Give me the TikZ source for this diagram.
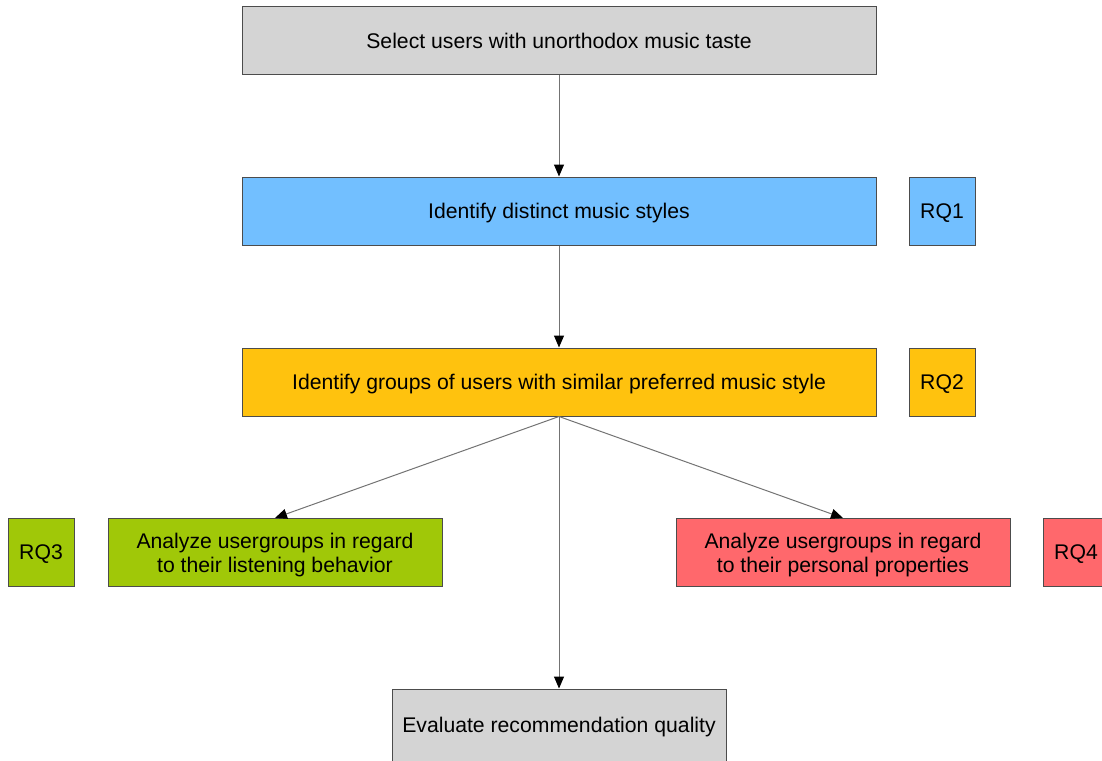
\documentclass[tikz,border=0pt]{standalone}
\usepackage{fontspec}
\setmainfont{Liberation Sans}
\usetikzlibrary{arrows.meta}
\definecolor{selgray}{HTML}{D4D4D4}
\definecolor{rqblue}{HTML}{72BFFF}
\definecolor{rqorange}{HTML}{FFC20E}
\definecolor{rqgreen}{HTML}{A0C808}
\definecolor{rqred}{HTML}{FF686C}
\begin{document}
\begin{tikzpicture}[x=1pt,y=-1pt,
  box/.style={draw=black!70,line width=1pt,minimum height=68pt,inner sep=0pt,align=center,text depth=0pt,font=\fontsize{21.2}{24}\selectfont},
  wide/.style={box,minimum width=634pt},
  half/.style={box,minimum width=334pt},
  twoline/.style={half,text depth=-2pt},
  rq/.style={box,minimum width=66pt},
  flow/.style={draw=black!55,line width=1pt,-{Triangle[length=12pt,width=10pt,color=black]}}]
\clip (0,0) rectangle (1102,760);
\useasboundingbox (0,0) rectangle (1102,760);
\node[wide,fill=selgray] (select) at (559,40.5) {Select users with unorthodox music taste};
\node[wide,fill=rqblue] (styles) at (559,211) {Identify distinct music styles};
\node[rq,fill=rqblue] (rqone) at (942,211) {RQ1};
\node[wide,fill=rqorange] (groups) at (559,382) {Identify groups of users with similar preferred music style};
\node[rq,fill=rqorange] (rqtwo) at (942,382) {RQ2};
\node[twoline,fill=rqgreen] (listen) at (275,552.5) {Analyze usergroups in regard\\to their listening behavior};
\node[rq,fill=rqgreen] (rqthree) at (41,552.5) {RQ3};
\node[twoline,fill=rqred] (personal) at (843,552.5) {Analyze usergroups in regard\\to their personal properties};
\node[rq,fill=rqred] (rqfour) at (1076,552.5) {RQ4};
\node[half,fill=selgray,minimum height=72pt] (evaluate) at (559,725) {Evaluate recommendation quality};
\draw[flow] (select) -- (styles);
\draw[flow] (styles) -- (groups);
\draw[flow] (groups.south) -- (listen.north);
\draw[flow] (groups.south) -- (personal.north);
\draw[flow] (groups.south) -- (evaluate.north);
\end{tikzpicture}
\end{document}
